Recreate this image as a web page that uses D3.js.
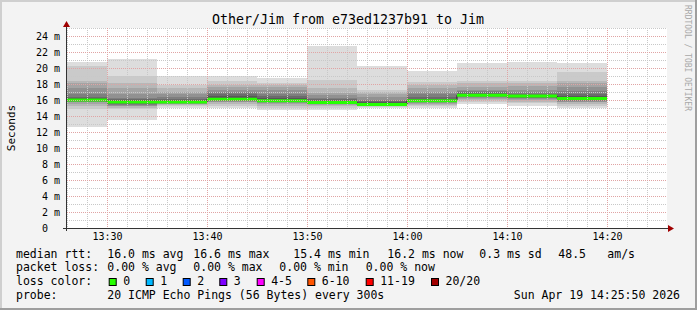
<!DOCTYPE html>
<html>
<head>
<meta charset="utf-8">
<script src="https://cdn.jsdelivr.net/npm/d3@7"></script>
<style>
  html, body { margin: 0; padding: 0; background: #f3f3f3; }
  svg { display: block; }
  text { font-family: "DejaVu Sans Mono", monospace; fill: #000; }
</style>
</head>
<body>
<svg id="chart" width="697" height="310"></svg>
<script>
// ---------------- data ----------------
const title = "Other/Jim from e73ed1237b91 to Jim";
const times = ["13:30","13:35","13:40","13:45","13:50","13:55","14:00","14:05","14:10","14:15","14:20"];
const median = [16.0, 15.75, 15.75, 16.1, 15.9, 15.7, 15.45, 15.9, 16.6, 16.5, 16.2];
// 20 sorted ping rtts (ms) for each 5-minute step
const pings = [
  [12.6,14.9,15.2,15.5,15.7,15.8,15.85,15.9,15.95,16.0,16.05,16.1,16.2,16.4,16.8,17.5,18.1,18.4,20.2,20.7],
  [13.5,14.9,15.0,15.2,15.3,15.4,15.5,15.6,15.65,15.7,15.8,15.9,16.0,16.1,16.3,16.7,17.5,18.1,19.0,21.1],
  [15.0,15.2,15.35,15.45,15.55,15.6,15.65,15.7,15.72,15.75,15.78,15.85,15.95,16.1,16.4,16.7,17.05,17.5,17.9,19.0],
  [15.0,15.3,15.5,15.7,15.8,15.9,15.95,16.0,16.05,16.1,16.15,16.3,16.5,16.7,17.0,17.25,17.6,17.9,18.4,19.0],
  [14.7,15.0,15.3,15.5,15.6,15.7,15.8,15.85,15.9,15.9,15.95,16.0,16.2,16.5,16.8,17.2,17.6,17.9,18.1,18.7],
  [14.7,15.0,15.2,15.35,15.45,15.55,15.6,15.65,15.7,15.7,15.75,15.8,15.9,16.1,16.3,16.6,16.9,17.5,18.5,22.8],
  [15.0,15.1,15.2,15.25,15.3,15.35,15.38,15.4,15.42,15.45,15.48,15.55,15.7,15.85,16.0,16.4,16.8,17.0,17.3,20.25],
  [15.0,15.2,15.4,15.55,15.65,15.75,15.8,15.85,15.9,15.92,15.95,16.0,16.15,16.4,16.7,17.0,17.5,17.9,18.3,19.6],
  [15.5,15.8,16.0,16.15,16.3,16.4,16.45,16.5,16.55,16.6,16.62,16.7,16.8,16.95,17.1,17.25,17.6,18.1,18.4,20.6],
  [15.25,15.6,15.8,15.95,16.1,16.2,16.3,16.35,16.4,16.45,16.5,16.55,16.65,16.8,17.0,17.25,17.7,18.1,18.4,20.75],
  [15.0,15.3,15.5,15.7,15.8,15.9,16.0,16.05,16.1,16.15,16.2,16.3,16.45,16.7,17.1,17.6,18.1,18.4,19.5,20.6]
];
const yTicks = [0,2,4,6,8,10,12,14,16,18,20,22,24];
const xTicks = ["13:30","13:40","13:50","14:00","14:10","14:20"];
const smokeGrays = ["#dddddd","#cacaca","#b7b7b7","#a4a4a4","#919191","#7e7e7e","#6b6b6b","#585858","#454545","#323232"];
const lossLabels = ["0","1","2","3","4-5","6-10","11-19","20/20"];
const lossColors = ["#26ff00","#00b8ff","#0059ff","#7e00ff","#ff00ff","#ff5500","#ff0000","#a10000"];
const rttLegend = ["16.0 ms avg","16.6 ms max","15.4 ms min","16.2 ms now","0.3 ms sd","48.5","am/s"];
const lossLegend = ["0.00 % avg","0.00 % max","0.00 % min","0.00 % now"];
const probeText = "20 ICMP Echo Pings (56 Bytes) every 300s";
const dateText = "Sun Apr 19 14:25:50 2026";

// ---------------- layout ----------------
const W = 697, H = 310;
const L = 67, R = 667, T = 28, B = 228;
const day = "2026-04-19T";
const parseT = s => new Date(day + s + ":00");
const x = d3.scaleTime().domain([parseT("13:26"), parseT("14:26")]).range([L, R]);
const y = d3.scaleLinear().domain([0, 25]).range([B, T]);

const svg = d3.select("#chart");
// background + 3D frame
svg.append("rect").attr("x",0).attr("y",0).attr("width",W).attr("height",H).attr("fill","#f3f3f3");
svg.append("path").attr("d",`M0,0H${W}V2H2V${H}H0Z`).attr("fill","#cfcfcf");
svg.append("path").attr("d",`M${W},${H}H0V${H-2}H${W-2}V0H${W}Z`).attr("fill","#9e9e9e");

// plot canvas
svg.append("rect").attr("x",L).attr("y",T).attr("width",R-L).attr("height",B-T).attr("fill","#ffffff");

// smoke
const steps = times.map((t,i) => {
  const end = parseT(t);
  let start = new Date(end.getTime() - 5*60000);
  if (start < x.domain()[0]) start = x.domain()[0];
  return {start, end, p: pings[i], med: median[i]};
});
const smoke = svg.append("g");
steps.forEach(s => {
  for (let k = 0; k < 10; k++) {
    const lo = s.p[k], hi = s.p[19-k];
    smoke.append("rect")
      .attr("x", x(s.start)).attr("width", x(s.end) - x(s.start))
      .attr("y", y(hi)).attr("height", Math.max(0, y(lo) - y(hi)))
      .attr("fill", smokeGrays[k]).attr("shape-rendering","crispEdges");
  }
});

// median: dark step line + green loss-coloured segments
const stepPts = [];
steps.forEach(s => { stepPts.push([x(s.start), y(s.med)]); stepPts.push([x(s.end), y(s.med)]); });
svg.append("path").attr("d", d3.line()(stepPts)).attr("fill","none").attr("stroke","#202020").attr("stroke-width",1);
svg.append("g").selectAll("line").data(steps).join("line")
  .attr("x1", d => x(d.start)).attr("x2", d => x(d.end))
  .attr("y1", d => y(d.med)).attr("y2", d => y(d.med))
  .attr("stroke", lossColors[0]).attr("stroke-width", 3);

// grid (drawn over the smoke as rrdtool does)
const grid = svg.append("g").attr("shape-rendering","crispEdges");
const minorY = d3.range(0, 26, 1).filter(v => v % 2 !== 0);
grid.selectAll(".gyMinor").data(minorY).join("line")
  .attr("x1", L).attr("x2", R).attr("y1", d => Math.round(y(d))+0.5).attr("y2", d => Math.round(y(d))+0.5)
  .attr("stroke","#c8c8c8").attr("stroke-dasharray","1,1");
const minorX = d3.timeMinute.every(2).range(x.domain()[0], x.domain()[1]).filter(d => d.getMinutes() % 10 !== 0);
grid.selectAll(".gxMinor").data(minorX).join("line")
  .attr("y1", T).attr("y2", B).attr("x1", d => Math.round(x(d))+0.5).attr("x2", d => Math.round(x(d))+0.5)
  .attr("stroke","#c8c8c8").attr("stroke-dasharray","1,1");
grid.selectAll(".gyMajor").data(yTicks.filter(v => v > 0)).join("line")
  .attr("x1", L).attr("x2", R).attr("y1", d => Math.round(y(d))+0.5).attr("y2", d => Math.round(y(d))+0.5)
  .attr("stroke","#e0a4a4").attr("stroke-dasharray","1,1");
grid.selectAll(".gxMajor").data(xTicks.map(parseT)).join("line")
  .attr("y1", T).attr("y2", B).attr("x1", d => Math.round(x(d))+0.5).attr("x2", d => Math.round(x(d))+0.5)
  .attr("stroke","#e0a4a4").attr("stroke-dasharray","1,1");

// axes lines + arrows
svg.append("line").attr("x1", 63).attr("x2", 670).attr("y1", B+0.5).attr("y2", B+0.5).attr("stroke","#333");
svg.append("line").attr("x1", L-0.5).attr("x2", L-0.5).attr("y1", B+3).attr("y2", 24).attr("stroke","#333");
svg.append("path").attr("d", `M${R+1},${B-3}L${R+7},${B+0.5}L${R+1},${B+4}Z`).attr("fill","#a00000");
svg.append("path").attr("d", `M${L-4},${T-1}L${L-0.5},${T-7}L${L+3},${T-1}Z`).attr("fill","#a00000");

// y axis labels
const yAx = svg.append("g").attr("transform", `translate(${L},0)`)
  .call(d3.axisLeft(y).tickValues(yTicks).tickSize(0).tickPadding(7)
        .tickFormat(v => v === 0 ? "0" : v + " m"));
yAx.select(".domain").remove();
yAx.selectAll("text").style("font-family","DejaVu Sans Mono").style("font-size","10px").attr("fill","#000");
yAx.selectAll(".tick").filter(d => d === 0).select("text").attr("x", -19);

// x axis labels
const xAx = svg.append("g").attr("transform", `translate(0,${B})`)
  .call(d3.axisBottom(x).tickValues(xTicks.map(parseT)).tickSize(0).tickPadding(5)
        .tickFormat(d3.timeFormat("%H:%M")));
xAx.select(".domain").remove();
xAx.selectAll("text").style("font-family","DejaVu Sans Mono").style("font-size","10px").attr("fill","#000");

// title
svg.append("text").attr("x", 348).attr("y", 24).attr("text-anchor","middle")
  .style("font-size","13.3px").text(title);

// y label
svg.append("text").attr("transform","translate(14.5,128) rotate(-90)").attr("text-anchor","middle")
  .style("font-size","11px").text("Seconds");

// watermark
svg.append("text").attr("transform","translate(685,5) rotate(90)")
  .style("font-size","8px").attr("fill","#a8a8a8").style("fill","#a8a8a8").text("RRDTOOL / TOBI OETIKER");

// legend
const lf = "11.5px";
const leg = svg.append("g").style("font-size", lf).style("white-space","pre");
const row1 = 257.7, row2 = 271.3, row3 = 285.3, row4 = 299.3;
leg.append("text").attr("x",16).attr("y",row1).text("median rtt:");
const rttX = [107.3, 193.3, 293.3, 387.3, 479.3, 558.3, 607.3];
rttLegend.forEach((s,i) => leg.append("text").attr("x", rttX[i]).attr("y", row1).text(s));
leg.append("text").attr("x",16).attr("y",row2).text("packet loss:");
const lossX = [107.3, 193.3, 279.3, 365.7];
lossLegend.forEach((s,i) => leg.append("text").attr("x", lossX[i]).attr("y", row2).text(s));
leg.append("text").attr("x",16).attr("y",row3).text("loss color:");
const boxX = [108.7, 145.7, 182.7, 219.3, 256.7, 307.3, 365.7, 431];
lossLabels.forEach((s,i) => {
  leg.append("rect").attr("x", boxX[i]+0.5).attr("y", 278.5).attr("width", 7).attr("height", 7)
    .attr("fill", lossColors[i]).attr("stroke","#000").attr("stroke-width",1);
  leg.append("text").attr("x", boxX[i] + 14.5).attr("y", row3).text(s);
});
leg.append("text").attr("x",16).attr("y",row4).text("probe:");
leg.append("text").attr("x",107.3).attr("y",row4).text(probeText);
leg.append("text").attr("x",680).attr("y",row4).attr("text-anchor","end").text(dateText);
</script>
</body>
</html>
